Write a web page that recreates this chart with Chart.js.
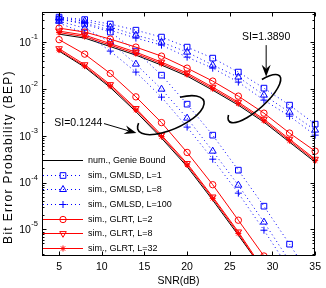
<!DOCTYPE html>
<html>
<head>
<meta charset="utf-8">
<script src="https://cdn.jsdelivr.net/npm/chart.js@4.4.1/dist/chart.umd.min.js"></script>
<style>
html, body { margin: 0; padding: 0; background: #fff; }
</style>
</head>
<body>
<canvas id="output" width="326" height="288"></canvas>
<script>
const FONT = '"Liberation Sans", Arial, Helvetica, sans-serif';

const snr = [5, 8, 11, 14, 17, 20, 23, 26, 29, 32, 35];
const xTicks = [5, 10, 15, 20, 25, 30, 35];
const yExponents = [-5, -4, -3, -2, -1];
const labels = ["num., Genie Bound", "sim., GMLSD, L=1", "sim., GMLSD, L=8", "sim., GMLSD, L=100",
    "sim., GLRT, L=2", "sim., GLRT, L=8", "sim., GLRT, L=32"];

// SI = 0.1244
const genieLo = [0.0643, 0.0292, 0.0107, 0.00327, 8.89e-4, 2.19e-4, 4.21e-5, 7.5e-6, 1.3e-6, null, null];
const gmlsd1Lo = [0.310, 0.243, 0.164, 0.0643, 0.0197, 0.00473, 0.00103, 1.84e-4, 3.13e-5, 4.83e-6, 7e-7];
const gmlsd8Lo = [0.281, 0.199, 0.100, 0.0339, 0.0099, 0.00238, 4.69e-4, 8.8e-5, 1.43e-5, 2.1e-6, null];
const gmlsd100Lo = [0.255, 0.156, 0.0643, 0.0229, 0.00668, 0.00153, 3.16e-4, 5.94e-5, 9.6e-6, 1.4e-6, null];
const glrt2Lo = [0.113, 0.0554, 0.0214, 0.00678, 0.00191, 4.40e-4, 9.0e-5, 1.57e-5, 2.7e-6, null, null];
const glrt8Lo = [0.0726, 0.0330, 0.0124, 0.00383, 0.00103, 2.56e-4, 4.94e-5, 8.85e-6, 1.34e-6, null, null];
const glrt32Lo = [0.0675, 0.0307, 0.0115, 0.00356, 9.6e-4, 2.38e-4, 4.6e-5, 8.2e-6, 1.25e-6, null, null];

// SI = 1.3890
const genieHi = [0.148, 0.122, 0.0802, 0.0527, 0.0323, 0.0188, 0.0094, 0.0045, 0.00195, 7.3e-4, 2.73e-4];
const gmlsd1Hi = [0.342, 0.303, 0.243, 0.180, 0.128, 0.0782, 0.0455, 0.0229, 0.0104, 0.00451, 0.00177];
const gmlsd8Hi = [0.326, 0.281, 0.210, 0.141, 0.100, 0.0611, 0.0323, 0.0179, 0.00738, 0.00319, 0.00132];
const gmlsd100Hi = [0.310, 0.255, 0.180, 0.122, 0.0863, 0.0478, 0.0278, 0.0140, 0.00577, 0.00262, 0.00103];
const glrt2Hi = [0.199, 0.164, 0.116, 0.0782, 0.0502, 0.0278, 0.0147, 0.00702, 0.00304, 0.00114, 4.69e-4];
const glrt8Hi = [0.172, 0.141, 0.0929, 0.0611, 0.0374, 0.0218, 0.0109, 0.00522, 0.00226, 8.45e-4, 3.16e-4];
const glrt32Hi = [0.160, 0.131, 0.0863, 0.0568, 0.0347, 0.0203, 0.0101, 0.00485, 0.0021, 7.85e-4, 2.94e-4];

const groups = [
    [genieLo, gmlsd1Lo, gmlsd8Lo, gmlsd100Lo, glrt2Lo, glrt8Lo, glrt32Lo],
    [genieHi, gmlsd1Hi, gmlsd8Hi, gmlsd100Hi, glrt2Hi, glrt8Hi, glrt32Hi]
];

const styles = [
    { color: "#000000", dash: [], point: "circle", radius: 0 },
    { color: "#0000ff", dash: [1, 3], point: "rect", radius: 4 },
    { color: "#0000ff", dash: [1, 3], point: "triangle", radius: 4 },
    { color: "#0000ff", dash: [1, 3], point: "cross", radius: 3.5 },
    { color: "#ff0000", dash: [], point: "circle", radius: 3.2 },
    { color: "#ff0000", dash: [], point: "triangle", radius: 3.8, rotation: 180 },
    { color: "#ff0000", dash: [], point: "star", radius: 3 }
];

// annotation anchors in data units, shape sizes in pixels
const notes = [
    { text: "SI=0.1244", at: [7.26, 0.00190], from: [10.26, 0.00182], to: [14.06, 0.00114],
      ellipse: [18.09, 0.00275], rx: 36, ry: 14, rot: -0.42, start: -1.12, end: 3.58 },
    { text: "SI=1.3890", at: [29.26, 0.128], from: [29.26, 0.0863], to: [29.26, 0.0183],
      ellipse: [27.88, 0.00621], rx: 34, ry: 11, rot: -0.73, start: -1.0, end: 3.62 }
];

const datasets = [];
groups.forEach((series) => {
    series.forEach((values, i) => {
        const s = styles[i];
        datasets.push({
            label: labels[i],
            data: values.map((v, k) => ({ x: snr[k], y: v })),
            borderColor: s.color,
            backgroundColor: "rgba(0,0,0,0)",
            borderWidth: 1,
            borderDash: s.dash,
            pointStyle: s.point,
            pointRadius: s.radius,
            pointRotation: s.rotation || 0,
            pointBorderColor: s.color,
            pointBackgroundColor: "rgba(0,0,0,0)",
            pointBorderWidth: 1,
            tension: 0,
            order: 20 - i,
            clip: { left: 6, top: 6, right: 6, bottom: 0 }
        });
    });
});

function arrow(ctx, x1, y1, x2, y2) {
    const ang = Math.atan2(y2 - y1, x2 - x1);
    const len = 12, half = 4.5, notch = 8;
    ctx.beginPath();
    ctx.moveTo(x1, y1);
    ctx.lineTo(x2 - notch * Math.cos(ang), y2 - notch * Math.sin(ang));
    ctx.stroke();
    ctx.save();
    ctx.translate(x2, y2);
    ctx.rotate(ang);
    ctx.beginPath();
    ctx.moveTo(0, 0);
    ctx.lineTo(-len, -half);
    ctx.lineTo(-notch, 0);
    ctx.lineTo(-len, half);
    ctx.closePath();
    ctx.fill();
    ctx.restore();
}

const matlabFrame = {
    id: "matlabFrame",
    afterDatasetsDraw(chart) {
        const { ctx, chartArea: a, scales: { x, y } } = chart;
        ctx.save();
        ctx.strokeStyle = "#000";
        ctx.fillStyle = "#000";
        ctx.lineWidth = 1;
        const L = Math.round(a.left) + 0.5, R = Math.round(a.right) - 0.5;
        const T = Math.round(a.top) + 0.5, B = Math.round(a.bottom) - 0.5;
        ctx.strokeRect(L, T, R - L, B - T);

        // inward ticks
        ctx.beginPath();
        xTicks.forEach(v => {
            const px = Math.round(x.getPixelForValue(v)) + 0.5;
            ctx.moveTo(px, B); ctx.lineTo(px, B - 4);
            ctx.moveTo(px, T); ctx.lineTo(px, T + 4);
        });
        for (let e = -6; e <= 0; e++) {
            for (let m = 1; m <= 9; m++) {
                const v = m * Math.pow(10, e);
                if (v < y.min || v > y.max) continue;
                const py = Math.round(y.getPixelForValue(v)) + 0.5;
                const len = m === 1 ? 4 : 2;
                ctx.moveTo(L, py); ctx.lineTo(L + len, py);
                ctx.moveTo(R, py); ctx.lineTo(R - len, py);
            }
        }
        ctx.stroke();

        // y tick labels with superscript
        ctx.textAlign = "right";
        ctx.textBaseline = "middle";
        yExponents.forEach(e => {
            const py = y.getPixelForValue(Math.pow(10, e));
            ctx.font = "7.5px " + FONT;
            const sup = String(e);
            const w = ctx.measureText(sup).width;
            ctx.fillText(sup, a.left - 4, py - 5);
            ctx.font = "10.5px " + FONT;
            ctx.fillText("10", a.left - 4 - w - 0.5, py + 1);
        });

        // axis titles
        ctx.textAlign = "center";
        ctx.font = "10.5px " + FONT;
        ctx.fillText("SNR(dB)", (a.left + a.right) / 2, 281);
        ctx.save();
        ctx.translate(9, 157);
        ctx.rotate(-Math.PI / 2);
        ctx.font = "12px " + FONT;
        ctx.letterSpacing = "1.3px";
        ctx.fillText("Bit Error Probability (BEP)", 0, 0);
        ctx.restore();

        // annotations
        ctx.font = "10.5px " + FONT;
        ctx.textAlign = "center";
        ctx.textBaseline = "middle";
        notes.forEach(n => {
            ctx.fillStyle = "#000";
            ctx.fillText(n.text, x.getPixelForValue(n.at[0]), y.getPixelForValue(n.at[1]));
            ctx.lineWidth = 1;
            arrow(ctx, x.getPixelForValue(n.from[0]), y.getPixelForValue(n.from[1]),
                x.getPixelForValue(n.to[0]), y.getPixelForValue(n.to[1]));
            ctx.lineWidth = 1.6;
            ctx.beginPath();
            ctx.ellipse(x.getPixelForValue(n.ellipse[0]), y.getPixelForValue(n.ellipse[1]),
                n.rx, n.ry, n.rot, n.start, n.end);
            ctx.stroke();
        });

        // legend inside the axes, bottom left
        const step = 14.7;
        const top = a.bottom - 8 - 6 * step;
        ctx.lineWidth = 1;
        labels.forEach((lab, i) => {
            const ds = chart.data.datasets[i];
            const yy = Math.round(top + i * step) + 0.5;
            ctx.strokeStyle = ds.borderColor;
            ctx.setLineDash(ds.borderDash);
            ctx.beginPath();
            ctx.moveTo(a.left + 1, yy);
            ctx.lineTo(a.left + 41, yy);
            ctx.stroke();
            ctx.setLineDash([]);
            if (ds.pointRadius > 0) {
                ctx.fillStyle = "rgba(0,0,0,0)";
                Chart.helpers.drawPoint(ctx, {
                    pointStyle: ds.pointStyle, rotation: ds.pointRotation,
                    radius: ds.pointRadius, borderWidth: 1
                }, a.left + 21, yy);
            }
            ctx.fillStyle = "#000";
            ctx.font = "9px " + FONT;
            ctx.textAlign = "left";
            ctx.fillText(lab, a.left + 46, yy);
        });
        ctx.restore();
    }
};

Chart.defaults.font.family = FONT;
Chart.defaults.color = "#000";

const chart = new Chart(document.getElementById("output"), {
    type: "line",
    data: { datasets: datasets },
    options: {
        responsive: false,
        animation: false,
        devicePixelRatio: 1,
        layout: { padding: { top: 12, right: 6, left: 0, bottom: 0 } },
        plugins: { legend: { display: false }, tooltip: { enabled: false } },
        scales: {
            x: {
                type: "linear",
                min: 3,
                max: 35,
                grid: { display: false, drawTicks: false },
                border: { display: false },
                afterBuildTicks: s => { s.ticks = xTicks.map(v => ({ value: v })); },
                afterFit: s => { s.height = 32; },
                ticks: { font: { size: 10.5 }, color: "#000", padding: 5, maxRotation: 0 }
            },
            y: {
                type: "logarithmic",
                min: 2.7e-6,
                max: 0.44,
                grid: { display: false, drawTicks: false },
                border: { display: false },
                afterFit: s => { s.width = 42; },
                ticks: { display: false }
            }
        }
    },
    plugins: [matlabFrame]
});
</script>
</body>
</html>
